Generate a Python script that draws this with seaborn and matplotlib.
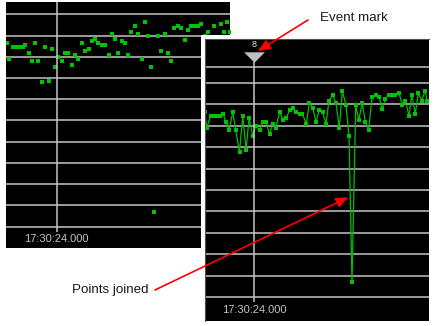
import matplotlib
matplotlib.use("Agg")
import matplotlib.pyplot as plt
import pandas as pd
import seaborn as sns
from matplotlib.patches import Rectangle

sns.set_theme(style="dark")
plt.rcParams['font.family'] = ['Liberation Sans', 'DejaVu Sans']

# ---- data (seconds relative to 17:30:24.000, signal value) ----
seconds = [-4.95, -4.76, -4.36, -4.04, -3.72, -3.42, -3.15, -2.82, -2.52, -2.15,
           -1.86, -1.48, -1.15, -0.82, -0.52, -0.16, 0.14, 0.54, 0.87, 1.13,
           1.54, 1.84, 2.14, 2.54, 2.87, 3.20, 3.54, 3.84, 4.17, 4.53,
           4.80, 5.20, 5.50, 5.84, 6.17, 6.50, 6.82, 7.17, 7.47, 7.84,
           8.17, 8.50, 8.80, 9.17, 9.47, 9.77, 10.14, 10.44, 10.80, 11.10,
           11.44, 11.77, 12.17, 12.47, 12.80, 13.10, 13.45, 13.78, 14.10, 14.47,
           14.80, 15.10, 15.47, 15.74, 16.10, 16.40, 16.74, 17.07, 17.30]
values = [8.64, 7.91, 8.47, 8.47, 8.47, 8.47, 8.57, 8.19, 7.80, 8.64,
          7.80, 6.79, 8.47, 6.88, 8.38, 7.54, 8.00, 7.80, 8.20, 8.20,
          7.63, 8.10, 7.91, 8.64, 8.29, 8.38, 8.74, 8.85, 8.64, 8.57,
          8.57, 8.10, 9.05, 8.85, 8.19, 8.74, 8.64, 8.10, 9.18, 9.44,
          9.05, 7.91, 9.63, 8.97, 7.54, 0.70, 8.96, 8.29, 9.05, 8.19,
          7.82, 9.34, 9.44, 9.36, 8.78, 9.25, 9.44, 9.44, 9.44, 9.53,
          8.99, 9.18, 8.47, 9.44, 8.57, 9.53, 9.18, 9.63, 9.18]
grid_values = list(range(0, 11))
event_time = 0.0
event_label = "8"
time_label = "17:30:24.000"
note_event = "Event mark"
note_joined = "Points joined"

df = pd.DataFrame({"t": seconds, "v": values})

W, H = 437, 326
fig = plt.figure(figsize=(W / 100, H / 100), dpi=100)
fig.patch.set_facecolor("white")

GREEN = "#00c400"
GRID = "#c4c4c4"


def px_axes(x0, y0, x1, y1):
    return fig.add_axes([x0 / W, (H - y1) / H, (x1 - x0) / W, (y1 - y0) / H])


def style(ax, xlim, ylim):
    ax.set_facecolor("black")
    ax.set_xlim(*xlim)
    ax.set_ylim(*ylim)
    ax.set_xticks([])
    ax.set_yticks(grid_values)
    ax.tick_params(length=0, labelleft=False, labelbottom=False)
    ax.grid(False)
    ax.grid(axis="y", color=GRID, lw=1.1)
    ax.set_xlabel("")
    ax.set_ylabel("")
    ax.set_axisbelow(True)


# ---- left panel: points only ----
ax_l = px_axes(6, 2, 230, 248)
ax_l.set_zorder(0)
sns.scatterplot(data=df, x="t", y="v", ax=ax_l, marker="s", s=11,
                color=GREEN, linewidth=0, legend=False)
style(ax_l, (-5.07, 17.33), (-1.01, 10.58))
for sp in ax_l.spines.values():
    sp.set_visible(False)
ax_l.vlines(event_time, -0.25, 10.58, color=GRID, lw=1.1)
ax_l.text(event_time, -0.59, time_label, ha="center", va="center",
          color=GRID, fontsize=8)

# white frame behind the right panel
fig.add_artist(Rectangle((201 / W, 0), (W - 201) / W, (H - 35) / H,
                         transform=fig.transFigure, facecolor="white",
                         edgecolor="none", zorder=1))

# ---- right panel: points joined ----
ax_r = px_axes(205, 39, 429, 321)
ax_r.set_zorder(2)
sns.lineplot(data=df, x="t", y="v", ax=ax_r, color="#00c000", lw=0.9,
             marker="s", markersize=3.2, markeredgewidth=0,
             markerfacecolor=GREEN, estimator=None, sort=False)
style(ax_r, (-4.93, 17.47), (-1.12, 12.06))
for name, sp in ax_r.spines.items():
    if name in ("top", "left"):
        sp.set_color("#505050")
        sp.set_linewidth(0.8)
    else:
        sp.set_visible(False)
ax_r.axhline(10.75, color=GRID, lw=1.1)
ax_r.vlines(event_time, -0.23, 10.97, color=GRID, lw=1.1)
ax_r.plot(event_time, 11.21, marker=[(-1, 0.5), (1, 0.5), (0, -0.5)],
          markersize=15, color="#c0c0c0", markeredgewidth=0)
ax_r.text(event_time, 11.82, event_label, ha="center", va="center",
          color="#e8e8e8", fontsize=6.5)
ax_r.text(event_time, -0.61, time_label, ha="center", va="center",
          color=GRID, fontsize=8)

arrow = dict(arrowstyle="-|>,head_length=0.6,head_width=0.25", color="red",
             lw=1.2, shrinkA=0, shrinkB=0, mutation_scale=12)
ax_r.annotate("", xy=(0.37, 11.5), xycoords="data",
              xytext=(308, H - 20), textcoords="figure pixels",
              arrowprops=arrow, annotation_clip=False)
ax_r.annotate("", xy=(9.4, 4.66), xycoords="data",
              xytext=(155, H - 290), textcoords="figure pixels",
              arrowprops=arrow, annotation_clip=False)

fig.text(320 / W, (H - 18) / H, note_event, ha="left", va="center",
         fontsize=9.6, color="#1a1a1a")
fig.text(71.7 / W, (H - 290) / H, note_joined, ha="left", va="center",
         fontsize=9.6, color="#1a1a1a")

fig.savefig("out.png", dpi=100, facecolor="white")
